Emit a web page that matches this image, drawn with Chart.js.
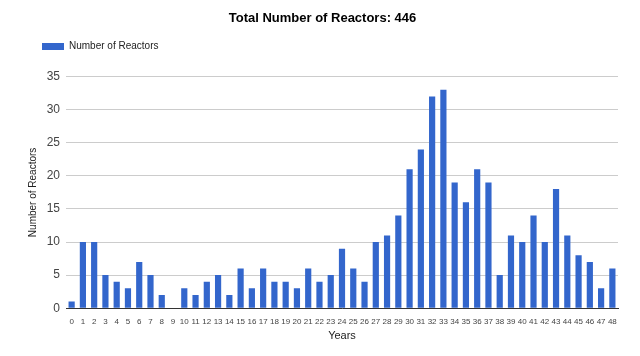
<!DOCTYPE html>
<html><head><meta charset="utf-8">
<script src="https://cdn.jsdelivr.net/npm/chart.js@4/dist/chart.umd.min.js"></script>
<style>html,body{margin:0;padding:0;background:#fff}#w{width:640px;height:356px}</style>
</head><body><div id="w"><canvas id="c"></canvas></div>
<script>
const years = ["0","1","2","3","4","5","6","7","8","9","10","11","12","13","14","15","16","17","18","19","20","21","22","23","24","25","26","27","28","29","30","31","32","33","34","35","36","37","38","39","40","41","42","43","44","45","46","47","48"];
const reactors = [1,10,10,5,4,3,7,5,2,0,3,2,4,5,2,6,3,6,4,4,3,6,4,5,9,6,4,10,11,14,21,24,32,33,19,16,21,19,5,11,10,14,10,18,11,8,7,3,6];
const yTicks = [0,5,10,15,20,25,30,35];
const FONT = "'Liberation Sans', Arial, sans-serif";
const legendGap = {
  id: 'legendGap',
  beforeInit(chart) {
    const orig = chart.legend.fit;
    chart.legend.fit = function () { orig.call(this); this.height += 15; };
  }
};
new Chart(document.getElementById('c'), {
  type: 'bar',
  data: { labels: years, datasets: [{ label: 'Number of Reactors', data: reactors, backgroundColor: '#3366cc', borderWidth: 0, categoryPercentage: 1, barPercentage: 0.55 }] },
  plugins: [legendGap],
  options: {
    responsive: true, maintainAspectRatio: false, animation: false,
    layout: { padding: { left: 27, right: 22, top: 0, bottom: 13 } },
    plugins: {
      title: { display: true, text: 'Total Number of Reactors: 446', color: '#000', font: { family: FONT, size: 13, weight: 'bold' }, padding: { top: 11, bottom: 0 } },
      legend: { position: 'top', align: 'start', labels: { boxWidth: 22, boxHeight: 7, color: '#222', font: { family: FONT, size: 10 }, padding: 15 } },
      tooltip: { enabled: false }
    },
    scales: {
      x: {
        grid: { display: false },
        border: { color: '#333', width: 1 },
        ticks: { color: '#444', font: { family: FONT, size: 8 }, maxRotation: 0, autoSkip: false, padding: 1 },
        title: { display: true, text: 'Years', color: '#222', font: { family: FONT, size: 11 }, padding: { top: 2, bottom: 0 } }
      },
      y: {
        min: 0, max: 35,
        afterBuildTicks: s => { s.ticks = yTicks.map(v => ({ value: v })); },
        afterFit: s => { s.width = 39; },
        grid: { color: '#cccccc', drawTicks: false },
        border: { display: false },
        ticks: { color: '#444', font: { family: FONT, size: 12 }, padding: 6 },
        title: { display: true, text: 'Number of Reactors', color: '#222', font: { family: FONT, size: 10 }, padding: 0 }
      }
    }
  }
});
</script></body></html>
